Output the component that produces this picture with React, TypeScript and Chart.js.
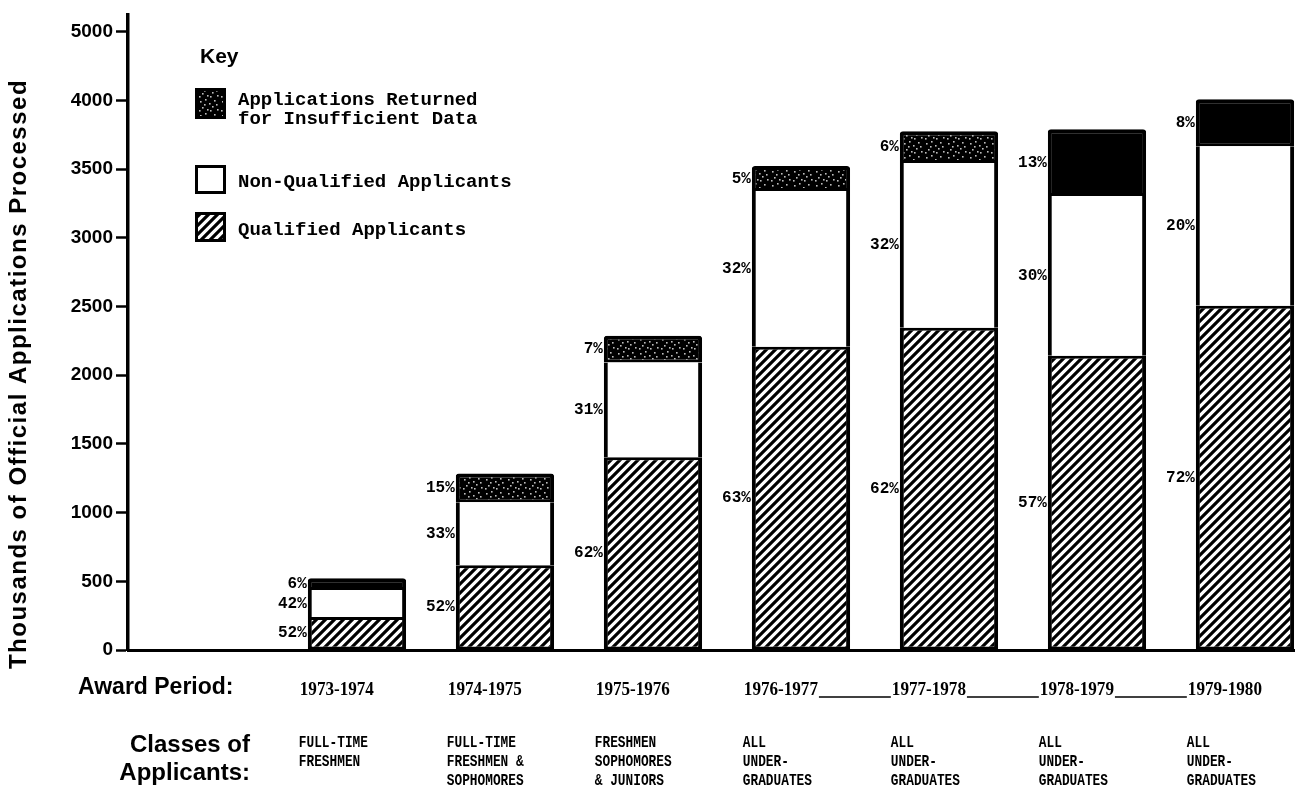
import React, { useEffect, useRef } from 'react';
import { Chart, registerables } from 'chart.js';

Chart.register(...registerables);

// ---------- data ----------
const categories = ['1973-1974', '1974-1975', '1975-1976', '1976-1977', '1977-1978', '1978-1979', '1979-1980'];
const classLabels = [
  ['FULL-TIME', 'FRESHMEN'],
  ['FULL-TIME', 'FRESHMEN &', 'SOPHOMORES'],
  ['FRESHMEN', 'SOPHOMORES', '& JUNIORS'],
  ['ALL', 'UNDER-', 'GRADUATES'],
  ['ALL', 'UNDER-', 'GRADUATES'],
  ['ALL', 'UNDER-', 'GRADUATES'],
  ['ALL', 'UNDER-', 'GRADUATES'],
];
const qualified = [240, 617, 1402, 2208, 2346, 2142, 2505];
const nonQualified = [196, 458, 690, 1133, 1198, 1162, 1162];
const returned = [87, 210, 196, 181, 232, 487, 342];
const pctQualified = [52, 52, 62, 63, 62, 57, 72];
const pctNonQualified = [42, 33, 31, 32, 32, 30, 20];
const pctReturned = [6, 15, 7, 5, 6, 13, 8];
const yTickValues = [0, 500, 1000, 1500, 2000, 2500, 3000, 3500, 4000, 4500];
const yTickLabels = ['0', '500', '1000', '1500', '2000', '2500', '3000', '3500', '4000', '5000'];
const returnedTexture = ['solid', 'stipple', 'stipple', 'stipple', 'stipple', 'solid', 'solid'];

const W = 1295;
const H = 804;

function makeHatch(): CanvasPattern | string {
  const c = document.createElement('canvas');
  const s = 9;
  c.width = s;
  c.height = s;
  const g = c.getContext('2d');
  if (!g) return '#fff';
  g.fillStyle = '#fff';
  g.fillRect(0, 0, s, s);
  g.strokeStyle = '#000';
  g.lineWidth = 3.2;
  g.beginPath();
  g.moveTo(-2, s + 2);
  g.lineTo(s + 2, -2);
  g.moveTo(-2, 2);
  g.lineTo(2, -2);
  g.moveTo(s - 2, s + 2);
  g.lineTo(s + 2, s - 2);
  g.stroke();
  return g.createPattern(c, 'repeat') || '#fff';
}

function makeStipple(): CanvasPattern | string {
  const c = document.createElement('canvas');
  c.width = 22;
  c.height = 14;
  const g = c.getContext('2d');
  if (!g) return '#000';
  g.fillStyle = '#000';
  g.fillRect(0, 0, 22, 14);
  g.fillStyle = '#bdbdbd';
  const dots = [[2, 3], [7, 1], [11, 5], [16, 2], [4, 9], [9, 11], [14, 8], [19, 11], [1, 12], [18, 6], [6, 6], [12, 12]];
  dots.forEach(([x, y]) => g.fillRect(x, y, 1.6, 1.6));
  return g.createPattern(c, 'repeat') || '#000';
}

export default function App() {
  const ref = useRef<HTMLCanvasElement | null>(null);

  useEffect(() => {
    const canvas = ref.current;
    if (!canvas) return;
    const hatch = makeHatch();
    const stipple = makeStipple();

    const overlay = {
      id: 'overlay',
      afterDraw(chart: any) {
        const ctx: CanvasRenderingContext2D = chart.ctx;
        ctx.save();
        ctx.fillStyle = '#000';
        ctx.strokeStyle = '#000';

        // percentage labels
        const pcts = [pctQualified, pctNonQualified, pctReturned];
        ctx.font = 'bold 16px "Liberation Mono"';
        ctx.textAlign = 'right';
        ctx.textBaseline = 'middle';
        pcts.forEach((arr, d) => {
          const meta = chart.getDatasetMeta(d);
          meta.data.forEach((el: any, i: number) => {
            const left = el.x - el.width / 2;
            const mid = (el.y + el.base) / 2;
            ctx.fillText(arr[i] + '%', left - 1, mid);
          });
        });

        // category labels
        const meta0 = chart.getDatasetMeta(0);
        ctx.textAlign = 'left';
        ctx.font = 'bold 18px "Liberation Serif"';
        const yearEnds: number[] = [];
        const yearStarts: number[] = [];
        meta0.data.forEach((el: any, i: number) => {
          const left = el.x - el.width / 2;
          const xs = left - 8;
          ctx.save();
          ctx.translate(xs, 690);
          ctx.scale(0.95, 1);
          ctx.fillText(categories[i], 0, 0);
          ctx.restore();
          yearStarts.push(xs);
          yearEnds.push(xs + ctx.measureText(categories[i]).width * 0.95);
        });
        ctx.lineWidth = 1.5;
        for (let i = 3; i < categories.length - 1; i++) {
          ctx.beginPath();
          ctx.moveTo(yearEnds[i] + 1, 697);
          ctx.lineTo(yearStarts[i + 1] - 1, 697);
          ctx.stroke();
        }

        ctx.font = 'bold 16px "Liberation Mono"';
        meta0.data.forEach((el: any, i: number) => {
          const left = el.x - el.width / 2;
          classLabels[i].forEach((line, k) => {
            ctx.save();
            ctx.translate(left - 9, 743 + k * 19);
            ctx.scale(0.8, 1);
            ctx.fillText(line, 0, 0);
            ctx.restore();
          });
        });

        // row headers
        ctx.font = 'bold 23px "Liberation Sans"';
        ctx.textAlign = 'left';
        ctx.fillText('Award Period:', 78, 688);
        ctx.textAlign = 'right';
        ctx.font = 'bold 24px "Liberation Sans"';
        ctx.fillText('Classes of', 250, 745);
        ctx.fillText('Applicants:', 250, 773);

        // y title
        ctx.save();
        ctx.translate(19, 374);
        ctx.rotate(-Math.PI / 2);
        ctx.textAlign = 'center';
        ctx.font = 'bold 24px "Liberation Sans"';
        try { (ctx as any).letterSpacing = '1.5px'; } catch (e) { /* ignore */ }
        ctx.fillText('Thousands of Official Applications Processed', 0, 0);
        ctx.restore();

        // legend
        ctx.textAlign = 'left';
        ctx.font = 'bold 21px "Liberation Sans"';
        ctx.fillText('Key', 200, 57);

        ctx.fillStyle = stipple as any;
        ctx.fillRect(195, 88, 31, 31);
        ctx.lineWidth = 3;
        ctx.strokeRect(196.5, 89.5, 28, 28);

        ctx.fillStyle = '#fff';
        ctx.fillRect(196, 166, 29, 27);
        ctx.lineWidth = 3;
        ctx.strokeRect(196.5, 166.5, 28, 26);

        ctx.fillStyle = hatch as any;
        ctx.fillRect(196, 213, 29, 28);
        ctx.lineWidth = 3;
        ctx.strokeRect(196.5, 213.5, 28, 27);

        ctx.fillStyle = '#000';
        ctx.font = 'bold 19px "Liberation Mono"';
        ctx.fillText('Applications Returned', 238, 100);
        ctx.fillText('for Insufficient Data', 238, 119);
        ctx.fillText('Non-Qualified Applicants', 238, 182);
        ctx.fillText('Qualified Applicants', 238, 230);

        ctx.restore();
      },
    };

    const toPoints = (arr: number[]) => arr.map((v, i) => ({ x: i + 1, y: v }));
    const common = {
      borderColor: '#000',
      borderSkipped: false,
      barPercentage: 0.83,
      categoryPercentage: 0.8,
    };

    const chart = new Chart(canvas, {
      type: 'bar',
      data: {
        datasets: [
          {
            label: 'Qualified Applicants',
            data: toPoints(qualified),
            backgroundColor: hatch as any,
            borderWidth: { top: 3, bottom: 3, left: 4, right: 4 },
            ...common,
          },
          {
            label: 'Non-Qualified Applicants',
            data: toPoints(nonQualified),
            backgroundColor: '#fff',
            borderWidth: { top: 0, bottom: 0, left: 4, right: 4 },
            ...common,
          },
          {
            label: 'Applications Returned for Insufficient Data',
            data: toPoints(returned),
            backgroundColor: returnedTexture.map((t) => (t === 'stipple' ? stipple : '#000')) as any,
            borderWidth: { top: 4, bottom: 3, left: 4, right: 4 },
            borderRadius: { topLeft: 3, topRight: 3, bottomLeft: 0, bottomRight: 0 },
            ...common,
          },
        ] as any,
      },
      options: {
        animation: false,
        responsive: false,
        devicePixelRatio: 1,
        layout: { padding: { left: 0, right: 0, top: 13, bottom: 0 } },
        plugins: { legend: { display: false }, tooltip: { enabled: false } },
        scales: {
          x: {
            type: 'linear',
            stacked: true,
            offset: false,
            bounds: 'data',
            min: -0.547,
            max: 7.338,
            afterBuildTicks: (s: any) => { s.ticks = categories.map((_, i) => ({ value: i + 1 })); },
            grid: { display: false },
            ticks: { display: false },
            border: { display: true, color: '#000', width: 3 },
            afterFit: (s: any) => { s.height = H - 650; },
          },
          y: {
            stacked: true,
            min: 0,
            max: 4626,
            afterBuildTicks: (s: any) => { s.ticks = yTickValues.map((v) => ({ value: v })); },
            ticks: {
              autoSkip: false,
              color: '#000',
              padding: 3,
              font: { family: 'Liberation Sans', size: 19, weight: 'bold' },
              callback: (value: any) => {
                const k = yTickValues.indexOf(Number(value));
                return k >= 0 ? yTickLabels[k] : '';
              },
            },
            grid: { display: true, drawOnChartArea: false, drawTicks: true, tickLength: 12, color: '#000', tickWidth: 2.5 } as any,
            border: { display: true, color: '#000', width: 3.5 },
            afterFit: (s: any) => { s.width = 128; },
          },
        } as any,
      },
      plugins: [overlay],
    });

    return () => chart.destroy();
  }, []);

  return (
    <div style={{ position: 'absolute', left: 0, top: 0, width: W, height: H, overflow: 'hidden', background: '#fff' }}>
      <canvas ref={ref} width={W} height={H} style={{ width: W, height: H, display: 'block' }} />
    </div>
  );
}
